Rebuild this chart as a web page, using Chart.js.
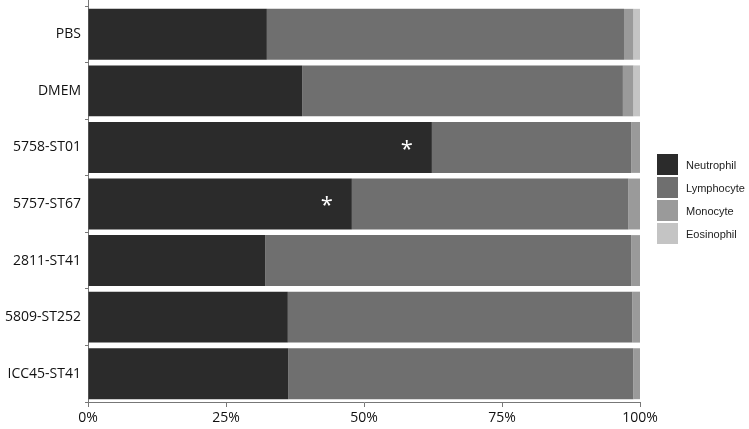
<!DOCTYPE html>
<html>
<head>
<meta charset="utf-8">
<script src="https://cdn.jsdelivr.net/npm/chart.js@4/dist/chart.umd.min.js"></script>
<style>
  body { margin: 0; background: #fff; }
  #wrap { position: relative; width: 749px; height: 429px; }
  #legend { position: absolute; left: 657px; top: 154px; font-family: "Liberation Sans", Arial, sans-serif; font-size: 11px; color: #222; }
  .item { display: flex; align-items: center; height: 21px; margin-bottom: 2px; }
  .box { width: 21px; height: 21px; margin-right: 8px; }
</style>
</head>
<body>
<div id="wrap">
  <canvas id="mychart" width="749" height="429"></canvas>
  <div id="legend"></div>
</div>
<script>
let groups = ['PBS', 'DMEM', '5758-ST01', '5757-ST67', '2811-ST41', '5809-ST252', 'ICC45-ST41'];
let neutrophil = [32.4, 38.8, 62.3, 47.8, 32.1, 36.2, 36.3];
let lymphocyte = [64.7, 58.1, 36.1, 50.1, 66.3, 62.4, 62.5];
let monocyte   = [1.7, 1.9, 1.6, 2.1, 1.6, 1.4, 1.2];
let eosinophil = [1.2, 1.2, 0, 0, 0, 0, 0];
let ticks_x = [0, 25, 50, 75, 100];
let signif = [2, 3]; // rows with *

let cores = ['#2b2b2b', '#6f6f6f', '#9a9a9a', '#c4c4c4'];
let nomes = ['Neutrophil', 'Lymphocyte', 'Monocyte', 'Eosinophil'];
let series = [neutrophil, lymphocyte, monocyte, eosinophil];

let datasets = [];
for (let i = 0; i < series.length; i++) {
    datasets.push({
        label: nomes[i],
        data: series[i],
        backgroundColor: cores[i],
        borderWidth: 0,
        barPercentage: 1,
        categoryPercentage: 0.9
    });
}

// legenda em html
let leg = document.getElementById('legend');
for (let i = 0; i < nomes.length; i++) {
    leg.innerHTML += '<div class="item"><div class="box" style="background:' + cores[i] + '"></div>' + nomes[i] + '</div>';
}

let asteriscos = {
    id: 'asteriscos',
    afterDatasetsDraw(chart) {
        let c = chart.ctx;
        let meta = chart.getDatasetMeta(0);
        c.save();
        c.fillStyle = '#ffffff';
        c.font = '22px "Open Sans", sans-serif';
        c.textAlign = 'center';
        c.textBaseline = 'middle';
        for (let idx of signif) {
            let el = meta.data[idx];
            c.fillText('*', el.x - 25, el.y + 2);
        }
        c.restore();
    }
};

// eixo y vai ate o topo do canvas
let eixo_topo = {
    id: 'eixo_topo',
    afterDraw(chart) {
        let c = chart.ctx;
        let x = chart.chartArea.left;
        c.save();
        c.strokeStyle = '#777';
        c.lineWidth = 1;
        c.beginPath();
        c.moveTo(x + 0.5, 0);
        c.lineTo(x + 0.5, chart.chartArea.top);
        c.stroke();
        c.restore();
    }
};

let ctx = document.getElementById('mychart');
let chart = new Chart(ctx, {
    type: 'bar',
    data: { labels: groups, datasets: datasets },
    plugins: [asteriscos, eixo_topo],
    options: {
        indexAxis: 'y',
        responsive: false,
        animation: false,
        layout: { padding: { top: 6, right: 109, left: 0, bottom: 0 } },
        plugins: { legend: { display: false }, tooltip: { enabled: false } },
        scales: {
            x: {
                stacked: true,
                min: 0,
                max: 100,
                afterBuildTicks: (s) => { s.ticks = ticks_x.map(v => ({ value: v })); },
                afterFit: (s) => { s.height = 27; },
                grid: { drawOnChartArea: false, tickLength: 5, color: '#777' },
                border: { color: '#777', width: 1 },
                ticks: {
                    callback: (v) => v + '%',
                    color: '#111',
                    padding: 3,
                    maxRotation: 0,
                    font: { family: '"Open Sans", sans-serif', size: 14 }
                }
            },
            y: {
                stacked: true,
                afterFit: (s) => { s.width = 88; s.paddingTop = 0; s.paddingBottom = 0; },
                grid: { drawOnChartArea: false, tickLength: 3, color: '#777' },
                border: { color: '#777', width: 1 },
                ticks: {
                    color: '#111',
                    padding: 4,
                    font: { family: '"Open Sans", sans-serif', size: 14 }
                }
            }
        }
    }
});
</script>
</body>
</html>
